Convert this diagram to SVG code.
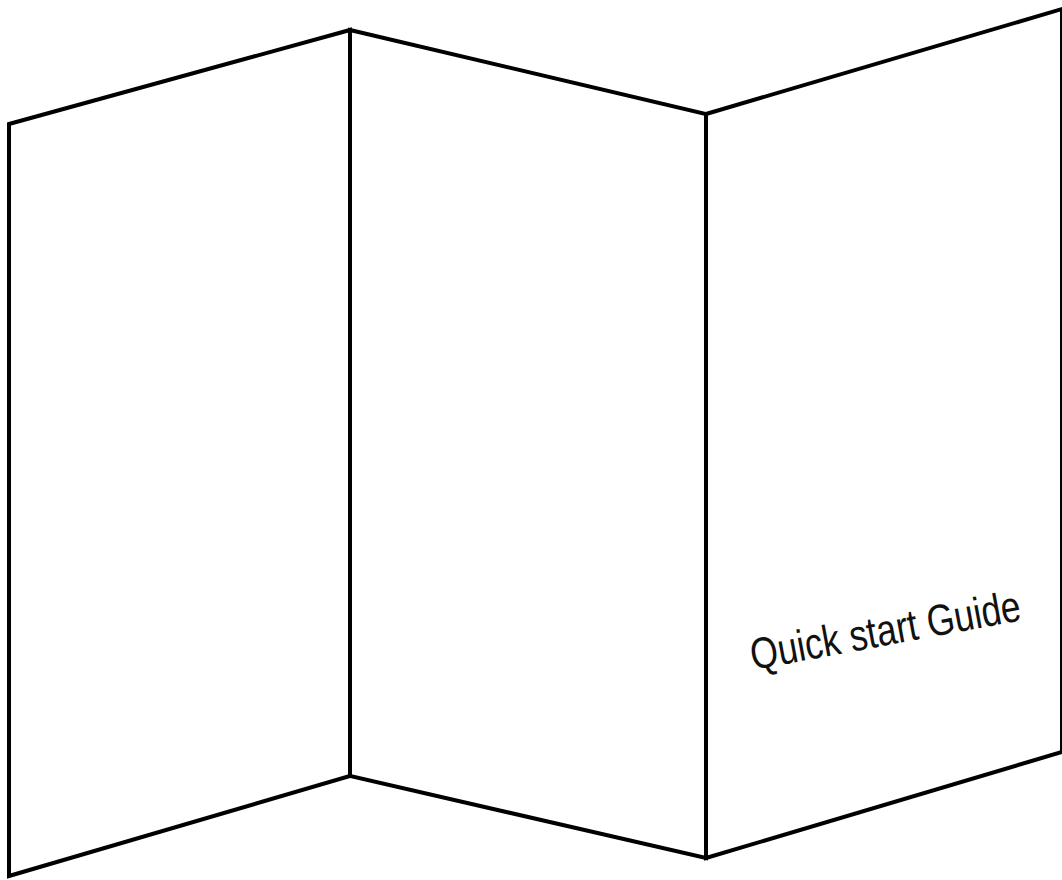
<svg xmlns="http://www.w3.org/2000/svg" width="1062" height="880" viewBox="0 0 1062 880">
<style>
.panel{fill:#fff;stroke:#000;stroke-width:4;stroke-linejoin:miter}
.lbl{font-family:"Liberation Sans",Arial,sans-serif;font-size:44px;fill:#111}
</style>
<rect width="1062" height="880" fill="#fff"/>
<g id="panel-left"><polygon class="panel" points="9,124 350,30 350,776 9,876"/></g>
<g id="panel-middle"><polygon class="panel" points="350,30 706,114 706,858 350,776"/></g>
<g id="panel-right"><polygon class="panel" points="706,114 1062,9 1062,752 706,858"/>
<text class="lbl" transform="translate(888,645) rotate(-10.5)" text-anchor="middle" textLength="274" lengthAdjust="spacingAndGlyphs">Quick start Guide</text></g>
</svg>
